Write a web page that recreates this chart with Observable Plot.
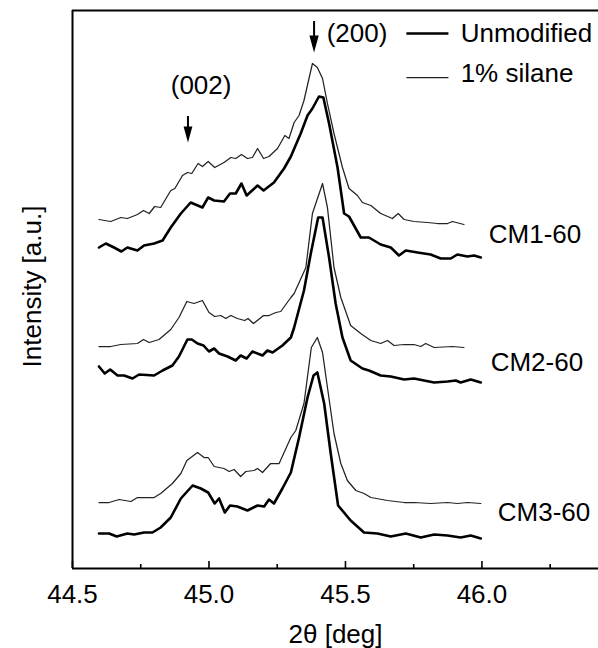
<!DOCTYPE html>
<html>
<head>
<meta charset="utf-8">
<script src="https://cdn.jsdelivr.net/npm/d3@7"></script>
<script src="https://cdn.jsdelivr.net/npm/@observablehq/plot@0.6"></script>
<style>
  html, body { margin: 0; padding: 0; background: white; }
</style>
</head>
<body>
<div id="chart"></div>
<script>
// 2θ [deg], intensity [a.u.] (offset stacked curves)
const cm1Silane = [[44.597,349],[44.640,347],[44.677,351],[44.701,350],[44.738,354],[44.760,358],[44.781,355],[44.801,362],[44.823,361],[44.860,378],[44.875,380],[44.903,393],[44.921,396],[44.937,395],[44.960,405],[44.976,402],[44.997,407],[45.021,401],[45.055,406],[45.080,411],[45.098,410],[45.119,414],[45.141,410],[45.159,411],[45.178,420],[45.200,410],[45.220,412],[45.251,420],[45.278,433],[45.293,430],[45.312,446],[45.330,453],[45.348,468],[45.379,505],[45.397,501],[45.416,490],[45.434,465],[45.458,435],[45.489,401],[45.513,380],[45.544,373],[45.562,366],[45.593,363],[45.629,355],[45.672,350],[45.693,355],[45.715,349],[45.751,347],[45.800,346],[45.837,345],[45.874,345],[45.892,347],[45.934,344]];
const cm1Unmod = [[44.597,321],[44.622,325],[44.652,321],[44.679,317],[44.701,321],[44.738,318],[44.762,323],[44.799,325],[44.830,328],[44.860,341],[44.897,355],[44.933,366],[44.976,361],[44.997,371],[45.019,368],[45.055,367],[45.077,375],[45.098,375],[45.119,385],[45.138,373],[45.178,383],[45.200,378],[45.238,386],[45.275,400],[45.300,412],[45.336,435],[45.361,453],[45.379,460],[45.403,472],[45.419,471],[45.440,445],[45.471,401],[45.495,355],[45.513,352],[45.556,331],[45.586,331],[45.629,324],[45.666,321],[45.696,313],[45.721,318],[45.764,316],[45.812,314],[45.849,310],[45.886,310],[45.910,314],[45.947,312],[45.971,313],[45.996,311]];
const cm2Silane = [[44.597,222],[44.640,222],[44.677,224],[44.738,225],[44.760,229],[44.781,226],[44.817,229],[44.860,239],[44.890,251],[44.919,267],[44.945,265],[44.976,268],[45.000,256],[45.021,252],[45.043,253],[45.062,250],[45.080,253],[45.104,250],[45.131,248],[45.143,250],[45.163,245],[45.200,253],[45.220,253],[45.245,256],[45.263,257],[45.300,271],[45.312,275],[45.355,301],[45.379,355],[45.416,385],[45.434,361],[45.458,301],[45.483,271],[45.519,243],[45.556,235],[45.593,228],[45.629,225],[45.654,228],[45.678,223],[45.715,224],[45.751,224],[45.776,222],[45.794,225],[45.825,221],[45.892,222],[45.934,221]];
const cm2Unmod = [[44.597,202],[44.618,195],[44.638,199],[44.665,193],[44.689,193],[44.720,190],[44.744,194],[44.799,193],[44.830,198],[44.866,203],[44.890,212],[44.921,229],[44.937,229],[44.958,225],[44.980,223],[45.000,217],[45.019,220],[45.037,215],[45.068,212],[45.098,208],[45.116,213],[45.138,210],[45.159,217],[45.196,213],[45.214,218],[45.233,216],[45.269,223],[45.300,231],[45.312,241],[45.348,278],[45.373,315],[45.400,351],[45.416,351],[45.440,311],[45.464,265],[45.489,231],[45.519,208],[45.562,200],[45.586,198],[45.629,193],[45.666,192],[45.715,189],[45.751,190],[45.788,188],[45.825,186],[45.874,187],[45.904,188],[45.922,186],[45.959,189],[45.996,186]];
const cm3Silane = [[44.597,66],[44.634,66],[44.671,69],[44.714,67],[44.738,71],[44.799,71],[44.823,75],[44.866,85],[44.897,95],[44.919,108],[44.958,116],[44.982,111],[44.997,111],[45.019,102],[45.055,100],[45.074,97],[45.092,99],[45.116,92],[45.135,97],[45.165,98],[45.178,100],[45.196,96],[45.226,105],[45.257,105],[45.300,131],[45.318,138],[45.348,165],[45.375,221],[45.397,231],[45.416,216],[45.434,181],[45.458,135],[45.483,105],[45.507,88],[45.538,78],[45.568,75],[45.593,71],[45.654,68],[45.715,66],[45.751,66],[45.812,65],[45.874,66],[45.910,65],[45.947,66],[45.996,65]];
const cm3Unmod = [[44.597,35],[44.634,35],[44.662,32],[44.701,35],[44.726,34],[44.762,36],[44.793,36],[44.823,41],[44.860,51],[44.897,70],[44.940,83],[44.970,80],[44.997,76],[45.021,65],[45.037,70],[45.058,56],[45.077,63],[45.104,62],[45.141,58],[45.178,63],[45.202,62],[45.220,69],[45.238,65],[45.269,80],[45.300,96],[45.330,131],[45.361,171],[45.383,193],[45.397,196],[45.422,165],[45.446,115],[45.473,63],[45.519,48],[45.568,36],[45.617,35],[45.666,32],[45.721,35],[45.776,31],[45.825,34],[45.874,33],[45.922,31],[45.959,33],[45.996,30]];

const majorTicks = [44.5, 45.0, 45.5, 46.0];
const minorTicks = [44.75, 45.25, 45.75, 46.25];
const sampleNames = ["CM1-60", "CM2-60", "CM3-60"];
const seriesNames = ["Unmodified", "1% silane"];
const peakNames = ["(200)", "(002)"];

const FONT = "'Liberation Sans', Arial, Helvetica, sans-serif";
const X = d => d[0], Y = d => d[1];

// elongated, downward-pointing filled arrow head
const arrowHead = {
  draw(ctx, size) {
    const r = Math.sqrt(size / Math.PI);
    const w = r * 1.1, h = r * 2;
    ctx.moveTo(0, h / 2);
    ctx.lineTo(-w / 2, -h / 2);
    ctx.lineTo(w / 2, -h / 2);
    ctx.closePath();
  }
};

const thin = {x: X, y: Y, stroke: "#222", strokeWidth: 1.25, strokeLinejoin: "round"};
const thick = {x: X, y: Y, stroke: "#000", strokeWidth: 2.6, strokeLinejoin: "round"};

const chart = Plot.plot({
  width: 598,
  height: 648,
  marginTop: 10,
  marginBottom: 80,
  marginLeft: 72,
  marginRight: 0,
  style: {fontFamily: FONT, fontSize: "26px", background: "white", color: "#000"},
  x: {domain: [44.5, 46.427], axis: null},
  y: {domain: [0, 558], axis: null},
  marks: [
    // curves
    Plot.line(cm1Silane, thin),
    Plot.line(cm1Unmod, thick),
    Plot.line(cm2Silane, thin),
    Plot.line(cm2Unmod, thick),
    Plot.line(cm3Silane, thin),
    Plot.line(cm3Unmod, thick),
    // frame (left, top, bottom)
    Plot.ruleX([44.5], {stroke: "#000", strokeWidth: 2}),
    Plot.ruleY([558], {stroke: "#000", strokeWidth: 2}),
    Plot.ruleY([0], {stroke: "#000", strokeWidth: 2}),
    // inward ticks
    Plot.ruleX(majorTicks, {y1: 0, y2: 7, stroke: "#000", strokeWidth: 1.6}),
    Plot.ruleX(minorTicks, {y1: 0, y2: 4, stroke: "#000", strokeWidth: 1.6}),
    Plot.axisX(majorTicks, {tickSize: 0, tickPadding: 16.5, fontSize: 26, tickFormat: d => d.toFixed(1), label: null}),
    // axis titles
    Plot.text(["2θ [deg]"], {frameAnchor: "bottom", dy: 66, lineAnchor: "middle", textAnchor: "middle", fontSize: 26, fill: "#000"}),
    Plot.text(["Intensity [a.u.]"], {frameAnchor: "left", dx: -40, dy: -3, rotate: -90, textAnchor: "middle", lineAnchor: "middle", fontSize: 26, fill: "#000"}),
    // peak markers
    Plot.ruleX([45.385], {y1: 547, y2: 526, stroke: "#000", strokeWidth: 2}),
    Plot.dot([45.385], {x: d => d, y: 524.5, symbol: arrowHead, r: 8.5, fill: "#000", stroke: "none"}),
    Plot.text([peakNames[0]], {x: 45.431, y: 535, textAnchor: "start", fontSize: 26, fill: "#000"}),
    Plot.ruleX([44.923], {y1: 452, y2: 436, stroke: "#000", strokeWidth: 2}),
    Plot.dot([44.923], {x: d => d, y: 434, symbol: arrowHead, r: 8, fill: "#000", stroke: "none"}),
    Plot.text([peakNames[1]], {x: 44.971, y: 483, textAnchor: "middle", fontSize: 26, fill: "#000"}),
    // legend
    Plot.ruleY([535], {x1: 45.725, x2: 45.879, stroke: "#000", strokeWidth: 2.6}),
    Plot.ruleY([491], {x1: 45.725, x2: 45.879, stroke: "#222", strokeWidth: 1.25}),
    Plot.text([seriesNames[0]], {x: 45.922, y: 535, textAnchor: "start", fontSize: 26, fill: "#000"}),
    Plot.text([seriesNames[1]], {x: 45.922, y: 495, textAnchor: "start", fontSize: 26, fill: "#000"}),
    // sample labels
    Plot.text([sampleNames[0]], {x: 46.025, y: 334, textAnchor: "start", fontSize: 26, fill: "#000"}),
    Plot.text([sampleNames[1]], {x: 46.032, y: 206, textAnchor: "start", fontSize: 26, fill: "#000"}),
    Plot.text([sampleNames[2]], {x: 46.058, y: 56, textAnchor: "start", fontSize: 26, fill: "#000"})
  ]
});
document.getElementById("chart").appendChild(chart);
</script>
</body>
</html>
